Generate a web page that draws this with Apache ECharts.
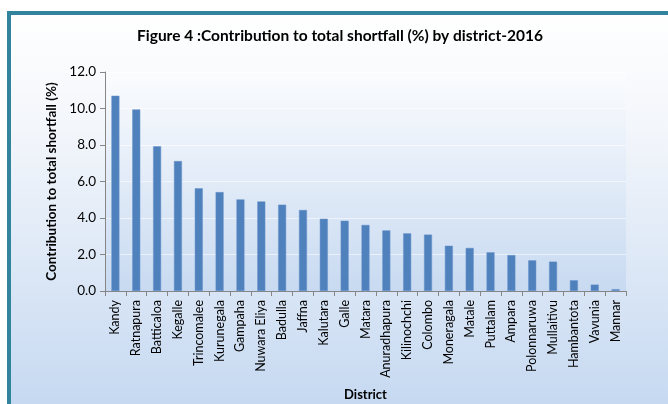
<!DOCTYPE html>
<html><head><meta charset="utf-8">
<script src="https://cdn.jsdelivr.net/npm/echarts@6/dist/echarts.min.js"></script>
<style>html,body{margin:0;padding:0;background:#fff}#c{width:668px;height:404px}</style>
</head><body><div id="c"></div>
<script>
const districts = ["Kandy","Ratnapura","Batticaloa","Kegalle","Trincomalee","Kurunegala","Gampaha","Nuwara Eliya","Badulla","Jaffna","Kalutara","Galle","Matara","Anuradhapura","Kilinochchi","Colombo","Moneragala","Matale","Puttalam","Ampara","Polonnaruwa","Mullaitivu","Hambantota","Vavunia","Mannar"];
const shortfall = [10.7,9.95,7.93,7.12,5.63,5.42,5.02,4.91,4.73,4.44,3.96,3.85,3.62,3.32,3.16,3.09,2.48,2.36,2.12,1.97,1.68,1.61,0.59,0.35,0.1];
const titleText = "Figure 4 :Contribution to total shortfall (%) by district-2016";
const yName = "Contribution to total shortfall (%)";
const xName = "District";

const chart = echarts.init(document.getElementById('c'), null, {renderer:'canvas'});
const font = 'Lato, "Open Sans", sans-serif';
chart.setOption({
  animation:false,
  graphic:[
    {type:'rect', z:-10, shape:{x:7,y:11,width:661,height:393},
     style:{fill:new echarts.graphic.LinearGradient(0,0,0,1,[{offset:0,color:'#ffffff'},{offset:0.3,color:'#f3f6fb'},{offset:1,color:'#c6d9f1'}])}},
    {type:'rect', z:-9, shape:{x:7,y:11,width:661,height:4}, style:{fill:'#31849b'}},
    {type:'rect', z:-9, shape:{x:7,y:11,width:4,height:393}, style:{fill:'#31849b'}}
  ],
  title:{text:titleText, left:132, top:23, textStyle:{fontFamily:font, fontSize:15.5, fontWeight:'bold', color:'#000'}},
  grid:{left:105, right:42, top:72, bottom:113, show:true, borderWidth:0, containLabel:false, outerBoundsMode:'none',
    backgroundColor:new echarts.graphic.LinearGradient(0,0,0,1,[{offset:0,color:'#fbfcfe'},{offset:1,color:'#c8daf1'}])},
  xAxis:{type:'category', data:districts, boundaryGap:true,
    name:xName, nameLocation:'middle', nameGap:97,
    nameTextStyle:{fontFamily:font, fontSize:13, fontWeight:'bold', color:'#000'},
    axisLine:{lineStyle:{color:'#868686', width:1}},
    axisTick:{show:true, alignWithLabel:false, length:5, lineStyle:{color:'#868686'}},
    axisLabel:{rotate:90, interval:0, fontFamily:font, fontSize:12.5, color:'#000', margin:9}},
  yAxis:{type:'value', min:0, max:12, interval:2,
    name:yName, nameLocation:'middle', nameRotate:90, nameGap:44,
    nameTextStyle:{fontFamily:font, fontSize:13.5, fontWeight:'bold', color:'#000'},
    axisLine:{show:true, lineStyle:{color:'#868686'}},
    axisTick:{show:true, length:5, lineStyle:{color:'#868686'}},
    axisLabel:{formatter:v=>v.toFixed(1), fontFamily:font, fontSize:13.5, color:'#000', margin:9},
    splitLine:{show:true, lineStyle:{color:'rgba(255,255,255,0.55)', width:1}}},
  series:[{type:'bar', data:shortfall, barWidth:8,
    itemStyle:{color:'#4f81bd', borderColor:'#6a95cb', borderWidth:0.5}}]
});
</script></body></html>
